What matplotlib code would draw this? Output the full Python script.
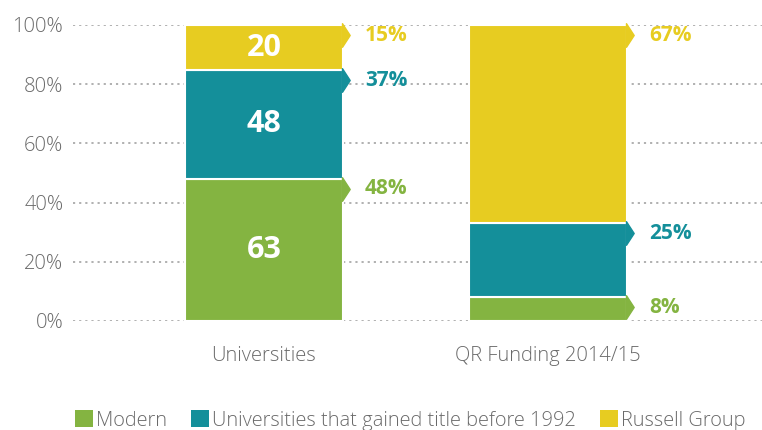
import matplotlib
matplotlib.use('Agg')
import matplotlib.pyplot as plt
from matplotlib.patches import Patch
from matplotlib.path import Path
import numpy as np

plt.rcParams['font.family'] = ['Open Sans', 'DejaVu Sans']

# data
categories = ['Universities', 'QR Funding 2014/15']
series = ['Modern', 'Universities that gained title before 1992', 'Russell Group']
colors = ['#84b441', '#148f9a', '#e7cc21']
uni_counts = [63, 48, 20]
uni_pct_labels = [48, 37, 15]
qr_pct = [8, 25, 67]
yticks = [0, 20, 40, 60, 80, 100]

uni_pct = np.array(uni_counts) / sum(uni_counts) * 100
shares = np.array([uni_pct, qr_pct], dtype=float)   # rows: category, cols: series
pct_labels = [uni_pct_labels, qr_pct]
inner_labels = [uni_counts, None]

fig = plt.figure(figsize=(7.62, 4.30), dpi=100)
ax = fig.add_axes([73 / 762, 109 / 430, 689 / 762, 296 / 430])

x = np.arange(len(categories))
width = 0.556
arrow = Path([(0, -1), (0.65, 0), (0, 1), (0, -1)],
             [Path.MOVETO, Path.LINETO, Path.LINETO, Path.CLOSEPOLY])

for i in range(len(categories)):
    bottom = 0
    for j in range(len(series)):
        h = shares[i, j]
        ax.bar(x[i], h, width, bottom=bottom, color=colors[j],
               edgecolor='white', linewidth=1.5, zorder=3)
        top = bottom + h
        ax.plot(x[i] + width / 2 - 0.004, top - 3.4, marker=arrow,
                markersize=17, color=colors[j], zorder=4, clip_on=False)
        ax.text(x[i] + width / 2 + 0.077, top - 3.4, f'{pct_labels[i][j]}%',
                color=colors[j], fontsize=15, fontweight='bold',
                ha='left', va='center')
        if inner_labels[i] is not None:
            ax.text(x[i], bottom + h / 2, str(inner_labels[i][j]), color='white',
                    fontsize=22, fontweight='bold', ha='center', va='center',
                    zorder=5)
        bottom = top

ax.set_xlim(-0.6725, 1.7535)
ax.set_ylim(0, 100)
ax.set_yticks(yticks)
ax.set_yticklabels([f'{t}%' for t in yticks])
ax.set_xticks(x)
ax.set_xticklabels(categories)
ax.tick_params(axis='both', length=0, labelsize=14.5, labelcolor='#6a6a6a')
ax.tick_params(axis='y', pad=7)
ax.tick_params(axis='x', pad=18)
for lab in ax.get_xticklabels() + ax.get_yticklabels():
    lab.set_fontweight('light')

ax.set_axisbelow(True)
ax.yaxis.grid(True, linestyle=(0, (1.2, 2.2)), color='#aaaaaa', linewidth=1.3)
for s in ax.spines.values():
    s.set_visible(False)

handles = [Patch(facecolor=c, edgecolor='none') for c in colors]
leg = fig.legend(handles, series, loc='lower left', bbox_to_anchor=(67 / 762, -0.02),
                 ncol=3, frameon=False, fontsize=14.4, handlelength=0.9,
                 handleheight=0.9, handletextpad=0.15, columnspacing=1.2,
                 borderaxespad=0)
for t in leg.get_texts():
    t.set_color('#6a6a6a')
    t.set_fontweight('light')

fig.savefig('out.png', dpi=100)
